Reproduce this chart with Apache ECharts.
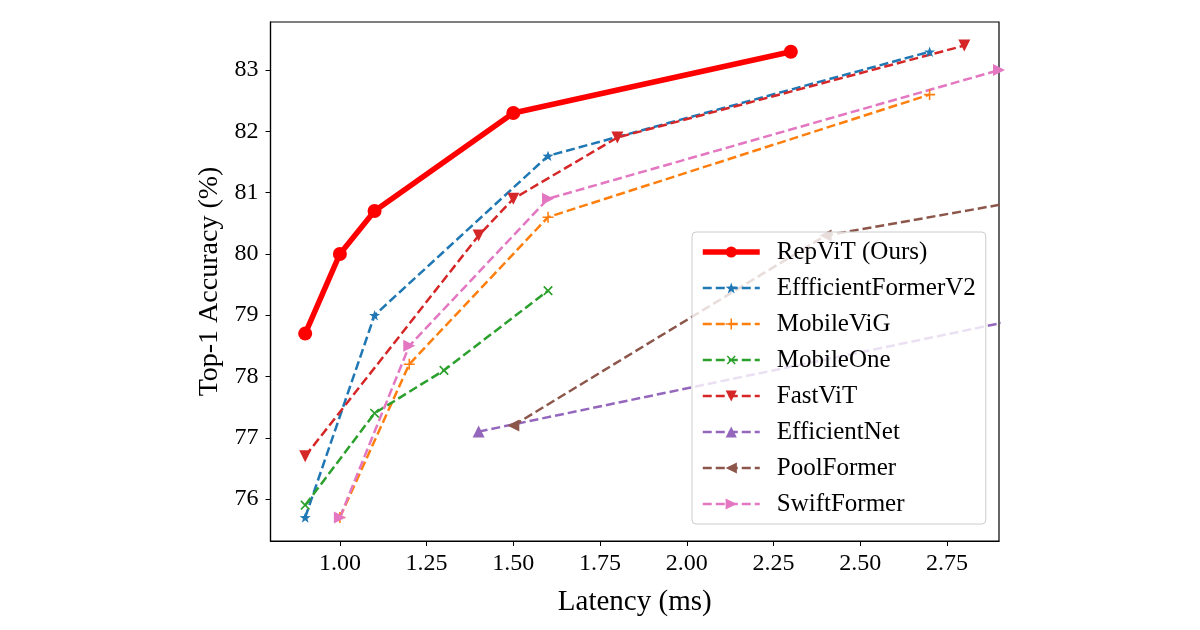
<!DOCTYPE html>
<html>
<head>
<meta charset="utf-8">
<script src="https://cdn.jsdelivr.net/npm/echarts@6/dist/echarts.min.js"></script>
<style>
html, body { margin: 0; padding: 0; background: #fff; }
#chart { width: 1200px; height: 630px; }
</style>
</head>
<body>
<div id="chart"></div>
<script>
// latency (ms) / top-1 (%)
var repvit = [[0.9, 78.7], [1.0, 80.0], [1.1, 80.7], [1.5, 82.3], [2.3, 83.3]];
var effFormerV2 = [[0.9, 75.7], [1.1, 79.0], [1.6, 81.6], [2.7, 83.3]];
var mobileViG = [[1.0, 75.7], [1.2, 78.2], [1.6, 80.6], [2.7, 82.6]];
var mobileOne = [[0.9, 75.9], [1.1, 77.4], [1.3, 78.1], [1.6, 79.4]];
var fastViT = [[0.9, 76.7], [1.4, 80.3], [1.5, 80.9], [1.8, 81.9], [2.8, 83.4]];
var efficientNet = [[1.4, 77.1], [3.1, 79.1]];
var poolFormer = [[1.5, 77.2], [2.4, 80.3], [3.5, 81.4]];
var swiftFormer = [[1.0, 75.7], [1.2, 78.5], [1.6, 80.9], [2.9, 83.0]];

var xTicks = [1.0, 1.25, 1.5, 1.75, 2.0, 2.25, 2.5, 2.75];
var yTicks = [76, 77, 78, 79, 80, 81, 82, 83];

var FONT = '"Liberation Serif", "DejaVu Serif", serif';
var DASH = [9, 4];

function starPath() {
    var pts = [];
    for (var i = 0; i < 10; i++) {
        var r = (i % 2 === 0) ? 10 : 4;
        var a = -Math.PI / 2 + i * Math.PI / 5;
        pts.push((r * Math.cos(a)).toFixed(2) + ',' + (r * Math.sin(a)).toFixed(2));
    }
    return 'path://M' + pts.join(' L') + ' Z';
}
var PLUS = 'path://M-0.7,-5 L0.7,-5 L0.7,-0.7 L5,-0.7 L5,0.7 L0.7,0.7 L0.7,5 L-0.7,5 L-0.7,0.7 L-5,0.7 L-5,-0.7 L-0.7,-0.7 Z';

function dashed(name, data, color, symbol, size, rotate) {
    return {
        name: name,
        type: 'line',
        data: data,
        symbol: symbol,
        symbolSize: size,
        symbolRotate: rotate || 0,
        symbolKeepAspect: true,
        showAllSymbol: true,
        clip: true,
        itemStyle: { color: color },
        lineStyle: { color: color, width: 2.5, type: DASH },
        emphasis: { disabled: true },
        z: 3
    };
}

function legendItem(name, width) {
    return { name: name, lineStyle: { width: width } };
}

var chart = echarts.init(document.getElementById('chart'), null, { renderer: 'canvas' });
var option = {
    backgroundColor: '#fff',
    animation: false,
    grid: {
        left: 270.5, right: 201, top: 22, bottom: 89,
        show: true, borderColor: '#000', borderWidth: 1.2, backgroundColor: 'transparent'
    },
    xAxis: {
        type: 'value', min: 0.8, max: 2.9,
        name: 'Latency (ms)', nameLocation: 'middle', nameGap: 47,
        nameTextStyle: { fontFamily: FONT, fontSize: 29, color: '#000' },
        axisLine: { show: true, onZero: false, lineStyle: { color: '#000', width: 1.2 } },
        axisTick: { show: true, length: 5, customValues: xTicks, lineStyle: { color: '#000' } },
        axisLabel: {
            customValues: xTicks, margin: 11, fontFamily: FONT, fontSize: 24, color: '#000',
            formatter: function (v) { return v.toFixed(2); }
        },
        splitLine: { show: false }
    },
    yAxis: {
        type: 'value', min: 75.315, max: 83.785,
        name: 'Top-1 Accuracy (%)', nameLocation: 'middle', nameGap: 45,
        nameTextStyle: { fontFamily: FONT, fontSize: 28, color: '#000' },
        axisLine: { show: true, onZero: false, lineStyle: { color: '#000', width: 1.2 } },
        axisTick: { show: true, length: 5, customValues: yTicks, lineStyle: { color: '#000' } },
        axisLabel: {
            customValues: yTicks, margin: 12, fontFamily: FONT, fontSize: 24, color: '#000',
            formatter: function (v) { return String(Math.round(v)); }
        },
        splitLine: { show: false }
    },
    legend: {
        left: 692, top: 232,
        orient: 'vertical',
        backgroundColor: 'rgba(255,255,255,0.8)',
        borderColor: '#ccc', borderWidth: 1, borderRadius: 4,
        padding: [7, 10, 7, 8],
        itemWidth: 57, itemHeight: 14, itemGap: 10,
        textStyle: { fontFamily: FONT, fontSize: 25, color: '#000', lineHeight: 26, padding: [0, 0, 0, 12] },
        data: [
            legendItem('RepViT (Ours)', 5.5),
            legendItem('EffficientFormerV2', 2.5),
            legendItem('MobileViG', 2.5),
            legendItem('MobileOne', 2.5),
            legendItem('FastViT', 2.5),
            legendItem('EfficientNet', 2.5),
            legendItem('PoolFormer', 2.5),
            legendItem('SwiftFormer', 2.5)
        ],
        z: 10
    },
    series: [
        {
            name: 'RepViT (Ours)',
            type: 'line',
            data: repvit,
            symbol: 'circle',
            symbolSize: 14,
            showAllSymbol: true,
            itemStyle: { color: '#ff0000' },
            lineStyle: { color: '#ff0000', width: 5.5 },
            emphasis: { disabled: true },
            z: 4
        },
        dashed('EffficientFormerV2', effFormerV2, '#1f77b4', starPath(), 11),
        dashed('MobileViG', mobileViG, '#ff7f0e', PLUS, 11),
        dashed('MobileOne', mobileOne, '#2ca02c', PLUS, 12, 45),
        dashed('FastViT', fastViT, '#d62728', 'triangle', 12, 180),
        dashed('EfficientNet', efficientNet, '#9467bd', 'triangle', 12),
        dashed('PoolFormer', poolFormer, '#8c564b', 'triangle', 12, 90),
        dashed('SwiftFormer', swiftFormer, '#e377c2', 'triangle', 12, -90)
    ]
};
chart.setOption(option);
</script>
</body>
</html>
